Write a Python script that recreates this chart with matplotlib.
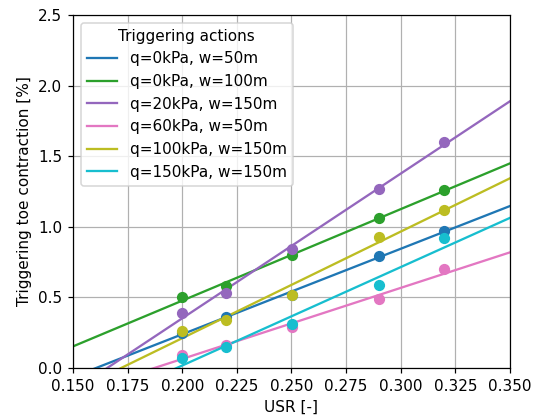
import numpy as np
import matplotlib
matplotlib.use("Agg")
import matplotlib.pyplot as plt

# ── Data ──
usr = [0.20, 0.22, 0.25, 0.29, 0.32]
labels = ["q=0kPa, w=50m", "q=0kPa, w=100m", "q=20kPa, w=150m",
          "q=60kPa, w=50m", "q=100kPa, w=150m", "q=150kPa, w=150m"]
colors = ["tab:blue", "tab:green", "tab:purple", "tab:pink", "tab:olive", "tab:cyan"]

toe_q0_w50 = [0.25, 0.36, 0.52, 0.79, 0.97]
toe_q0_w100 = [0.50, 0.58, 0.80, 1.06, 1.26]
toe_q20_w150 = [0.39, 0.53, 0.84, 1.27, 1.60]
toe_q60_w50 = [0.09, 0.16, 0.29, 0.49, 0.70]
toe_q100_w150 = [0.26, 0.34, 0.52, 0.93, 1.12]
toe_q150_w150 = [0.07, 0.15, 0.31, 0.59, 0.92]
series = [toe_q0_w50, toe_q0_w100, toe_q20_w150, toe_q60_w50, toe_q100_w150, toe_q150_w150]

# ── Plot ──
DPI = 110
fig = plt.figure(figsize=(536 / DPI, 416 / DPI), dpi=DPI)
ax = fig.add_axes([73 / 536, 48 / 416, 437 / 536, 353 / 416])

xfit = np.linspace(0.15, 0.35, 50)
for y, lab, c in zip(series, labels, colors):
    k, b = np.polyfit(usr, y, 1)
    ax.plot(xfit, k * xfit + b, color=c, lw=1.5, label=lab)
    ax.scatter(usr, y, color=c, s=40, zorder=3)

ax.set_xlim(0.15, 0.35)
ax.set_ylim(0, 2.5)
ax.set_xticks(np.arange(0.15, 0.3501, 0.025))
ax.set_yticks(np.arange(0, 2.501, 0.5))
ax.grid(True)
ax.set_axisbelow(True)
ax.set_xlabel("USR [-]")
ax.set_ylabel("Triggering toe contraction [%]")
ax.legend(title="Triggering actions", loc="upper left")

plt.savefig("out.png", dpi=DPI)
